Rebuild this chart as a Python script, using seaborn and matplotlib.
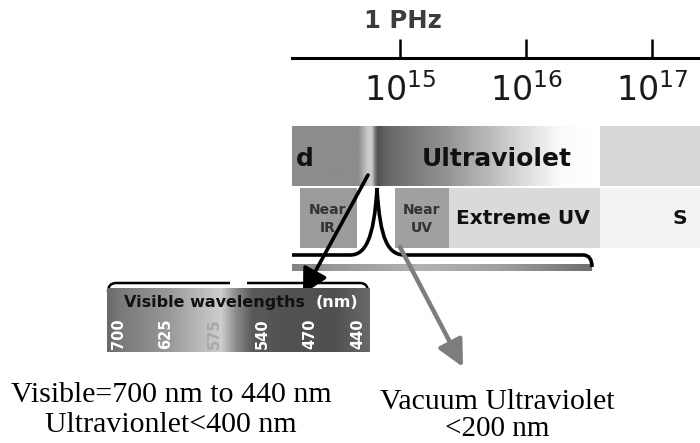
import numpy as np
import matplotlib
matplotlib.use("Agg")
import matplotlib.pyplot as plt
from matplotlib.path import Path
from matplotlib.patches import PathPatch, Rectangle
from matplotlib.ticker import FixedLocator, LogFormatterMathtext, NullLocator
import seaborn as sns

# chart content
freq_exponents = [15, 16, 17]
freq_title = "1 PHz"
top_band_labels = ["d", "Ultraviolet"]
sub_band_labels = ["Near\nIR", "Near\nUV", "Extreme UV", "S"]
visible_title = "Visible wavelengths"
visible_unit = "(nm)"
visible_nm = ["700", "625", "575", "540", "470", "440"]
note_left = ["Visible=700 nm to 440 nm", "Ultravionlet<400 nm"]
note_right = ["Vacuum Ultraviolet", "<200 nm"]

sns.set_theme(style="white")
plt.rcParams["font.family"] = ["DejaVu Sans"]
serif = ["Liberation Serif", "DejaVu Serif"]

W, H = 700, 443
fig = plt.figure(figsize=(7, 4.43), dpi=100)
fig.patch.set_facecolor("white")
ax = fig.add_axes([0, 0, 1, 1])
ax.axis("off")


def ramp(a, x0, x1, y0, y1, xs, levels, z=1):
    grid = np.linspace(x0, x1, 600)
    g = np.interp(grid, xs, levels)
    a.imshow(g[None, :], cmap="gray", vmin=0, vmax=255,
             extent=(x0, x1, y1, y0), aspect="auto",
             interpolation="bilinear", zorder=z)


# top band (infrared end / visible strip / ultraviolet fade)
ramp(ax, 292, 600, 126, 186,
     [292, 358, 362, 368, 372, 375, 378, 383, 395, 450, 520, 560, 600],
     [140, 140, 165, 205, 200, 120, 80, 95, 110, 150, 215, 250, 255])
ax.add_patch(Rectangle((600, 126), 100, 60, color="#d7d7d7", lw=0, zorder=1))

# second row boxes
ax.add_patch(Rectangle((300, 188), 57, 60, color="#9b9b9b", lw=0, zorder=1))
ax.add_patch(Rectangle((395, 188), 54, 60, color="#a0a0a0", lw=0, zorder=1))
ax.add_patch(Rectangle((449, 188), 151, 60, color="#dadada", lw=0, zorder=1))
ax.add_patch(Rectangle((600, 188), 100, 60, color="#f3f3f3", lw=0, zorder=1))

ax.text(296, 159, top_band_labels[0], fontsize=18, fontweight="bold",
        ha="left", va="center", color="#111111", zorder=3)
ax.text(497, 159, top_band_labels[1], fontsize=18, fontweight="bold",
        ha="center", va="center", color="#111111", zorder=3)
ax.text(328, 219, sub_band_labels[0], fontsize=10, fontweight="bold",
        ha="center", va="center", color="#333333", linespacing=1.3, zorder=3)
ax.text(422, 219, sub_band_labels[1], fontsize=10, fontweight="bold",
        ha="center", va="center", color="#333333", linespacing=1.3, zorder=3)
ax.text(523, 218, sub_band_labels[2], fontsize=14.5, fontweight="bold",
        ha="center", va="center", color="#111111", zorder=3)
ax.text(673, 218, sub_band_labels[3], fontsize=14.5, fontweight="bold",
        ha="left", va="center", color="#111111", zorder=3)

# spike bracket
verts = [(292, 255), (350, 255), (365, 255), (374, 240), (377, 188),
         (380, 240), (388, 255), (405, 255), (583, 255), (592, 255), (592, 267)]
codes = [Path.MOVETO, Path.LINETO, Path.CURVE4, Path.CURVE4, Path.CURVE4,
         Path.CURVE4, Path.CURVE4, Path.CURVE4, Path.LINETO, Path.CURVE3, Path.CURVE3]
ax.add_patch(PathPatch(Path(verts, codes), fill=False, lw=2.6,
                       color="black", capstyle="butt", zorder=4))

# gray bar under bracket
ramp(ax, 292, 592, 264, 271, [292, 330, 420, 500, 592],
     [130, 150, 178, 160, 110])

# bracket above visible box
for pts in ([(108, 292), (108, 283), (116, 283), (230, 283)],
            [(247, 283), (360, 283), (368, 283), (368, 292)]):
    c = [Path.MOVETO, Path.CURVE3, Path.CURVE3, Path.LINETO]
    if pts[0][0] > 240:
        c = [Path.MOVETO, Path.LINETO, Path.CURVE3, Path.CURVE3]
    ax.add_patch(PathPatch(Path(pts, c), fill=False, lw=1.8,
                           color="black", zorder=4))

# arrows
ax.annotate("", xy=(303, 294), xytext=(368, 175),
            arrowprops=dict(arrowstyle="-|>,head_length=0.75,head_width=0.4",
                            lw=2.6, color="black", shrinkA=0, shrinkB=0,
                            mutation_scale=20), zorder=6)
ax.annotate("", xy=(463, 367), xytext=(400, 247),
            arrowprops=dict(arrowstyle="-|>,head_length=0.8,head_width=0.4",
                            lw=3.2, color="#7d7d7d", shrinkA=0, shrinkB=0,
                            mutation_scale=20), zorder=6)

# notes
ax.text(171, 395, note_left[0], family=serif, fontsize=21.5,
        ha="center", va="center", color="black")
ax.text(171, 425, note_left[1], family=serif, fontsize=21.5,
        ha="center", va="center", color="black")
ax.text(497, 402, note_right[0], family=serif, fontsize=21.5,
        ha="center", va="center", color="black")
ax.text(497, 429, note_right[1], family=serif, fontsize=21,
        ha="center", va="center", color="black")

# frequency label
ax.text(403, 21, freq_title, fontsize=17.5, fontweight="bold",
        ha="center", va="center", color="#3c3c3c")

ax.set_xlim(0, W)
ax.set_ylim(H, 0)

# frequency axis
fax = fig.add_axes([292 / W, (H - 58) / H, (W - 292) / W, 1 / H])
fax.set_xscale("log")
fax.set_xlim(10 ** 14.14, 10 ** 17.38)
fax.xaxis.set_major_locator(FixedLocator([10.0 ** e for e in freq_exponents]))
fax.xaxis.set_major_formatter(LogFormatterMathtext())
fax.xaxis.set_minor_locator(NullLocator())
fax.set_yticks([])
fax.patch.set_visible(False)
for s in ["top", "left", "right"]:
    fax.spines[s].set_visible(False)
fax.spines["bottom"].set_linewidth(2.2)
fax.spines["bottom"].set_color("black")
fax.tick_params(axis="x", direction="in", length=14, width=1.8,
                color="black", labelsize=24, labelcolor="#1a1a1a", pad=11,
                bottom=True)

# visible wavelengths box (categorical x)
vax = fig.add_axes([107 / W, (H - 352) / H, 263 / W, 64 / H])
vax.axis("off")
ramp(vax, -0.23, 5.25, 0, 1,
     [-0.23, 0, 1, 1.7, 2.15, 2.45, 2.8, 3.5, 4.5, 5.25],
     [105, 120, 150, 185, 205, 140, 90, 82, 80, 105])
vax.set_xlim(-0.23, 5.25)
vax.set_ylim(0, 1)
for i, lab in enumerate(visible_nm):
    vax.text(i, 0.28, lab, rotation=90, ha="center", va="center",
             fontsize=10.5, fontweight="bold",
             color="#a8a8a8" if lab == "575" else "white")
vax.text(0.12, 0.78, visible_title, fontsize=11.5, fontweight="bold",
         ha="left", va="center", color="#111111")
vax.text(4.12, 0.78, visible_unit, fontsize=11.5, fontweight="bold",
         ha="left", va="center", color="white")

fig.savefig("out.png", dpi=100)
